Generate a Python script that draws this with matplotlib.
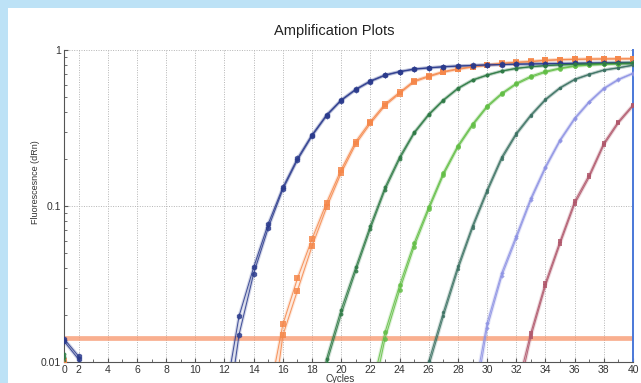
import matplotlib
matplotlib.use("Agg")
import matplotlib.pyplot as plt
from matplotlib.patches import Rectangle
from matplotlib.ticker import FixedLocator, NullFormatter, LogLocator

cycles = list(range(1, 41))

navy_a = [0.0141, 0.0109, 0.004, 0.003, 0.003, 0.003, 0.003, 0.003, 0.003, 0.003,
          0.003, 0.0056, 0.0197, 0.0405, 0.077, 0.1315, 0.2016, 0.286, 0.384, 0.479,
          0.561, 0.634, 0.692, 0.728, 0.756, 0.770, 0.782, 0.790, 0.797, 0.803,
          0.808, 0.812, 0.815, 0.818, 0.820, 0.822, 0.824, 0.826, 0.828, 0.830]
navy_b = [0.0136, 0.0104, 0.003, 0.003, 0.003, 0.003, 0.003, 0.003, 0.003, 0.003,
          0.003, 0.0033, 0.0150, 0.0369, 0.0723, 0.128, 0.197, 0.281, 0.379, 0.474,
          0.556, 0.628, 0.687, 0.724, 0.752, 0.767, 0.779, 0.788, 0.795, 0.801,
          0.806, 0.810, 0.813, 0.816, 0.818, 0.820, 0.822, 0.824, 0.826, 0.828]
orange_a = [0.0102, 0.003, 0.003, 0.003, 0.003, 0.003, 0.003, 0.003, 0.003, 0.003,
            0.003, 0.003, 0.003, 0.003, 0.0057, 0.0174, 0.0343, 0.0615, 0.105, 0.171,
            0.259, 0.348, 0.45, 0.535, 0.635, 0.682, 0.728, 0.758, 0.783, 0.803,
            0.822, 0.835, 0.845, 0.860, 0.868, 0.873, 0.876, 0.878, 0.879, 0.880]
orange_b = [0.0098, 0.003, 0.003, 0.003, 0.003, 0.003, 0.003, 0.003, 0.003, 0.003,
            0.003, 0.003, 0.003, 0.003, 0.003, 0.0148, 0.0287, 0.0552, 0.098, 0.163,
            0.250, 0.338, 0.44, 0.526, 0.625, 0.674, 0.72, 0.751, 0.777, 0.798,
            0.818, 0.831, 0.842, 0.857, 0.865, 0.870, 0.873, 0.875, 0.876, 0.877]
dgreen_a = [0.0113, 0.004, 0.003, 0.003, 0.003, 0.003, 0.003, 0.003, 0.003, 0.003,
            0.003, 0.003, 0.003, 0.003, 0.003, 0.003, 0.003, 0.004, 0.0105, 0.0217,
            0.0405, 0.0748, 0.1315, 0.206, 0.297, 0.388, 0.479, 0.569, 0.643, 0.692,
            0.734, 0.764, 0.782, 0.795, 0.804, 0.811, 0.816, 0.820, 0.823, 0.826]
dgreen_b = [0.0108, 0.004, 0.003, 0.003, 0.003, 0.003, 0.003, 0.003, 0.003, 0.003,
            0.003, 0.003, 0.003, 0.003, 0.003, 0.003, 0.003, 0.0035, 0.0098, 0.0202,
            0.0385, 0.0715, 0.127, 0.200, 0.292, 0.383, 0.474, 0.565, 0.639, 0.689,
            0.731, 0.761, 0.780, 0.793, 0.802, 0.809, 0.814, 0.818, 0.821, 0.824]
lgreen_a = [0.006, 0.003, 0.003, 0.003, 0.003, 0.003, 0.003, 0.003, 0.003, 0.003,
            0.003, 0.003, 0.003, 0.003, 0.003, 0.003, 0.003, 0.003, 0.003, 0.003,
            0.003, 0.0063, 0.0155, 0.031, 0.058, 0.0986, 0.163, 0.244, 0.335, 0.438,
            0.528, 0.612, 0.68, 0.73, 0.766, 0.792, 0.805, 0.813, 0.818, 0.823]
lgreen_b = [0.006, 0.003, 0.003, 0.003, 0.003, 0.003, 0.003, 0.003, 0.003, 0.003,
            0.003, 0.003, 0.003, 0.003, 0.003, 0.003, 0.003, 0.003, 0.003, 0.003,
            0.003, 0.005, 0.0141, 0.0288, 0.055, 0.095, 0.158, 0.238, 0.328, 0.43,
            0.52, 0.603, 0.668, 0.72, 0.758, 0.786, 0.80, 0.809, 0.815, 0.82]
teal_a = [0.006, 0.003, 0.003, 0.003, 0.003, 0.003, 0.003, 0.003, 0.003, 0.003,
          0.003, 0.003, 0.003, 0.003, 0.003, 0.003, 0.003, 0.003, 0.003, 0.003,
          0.003, 0.003, 0.003, 0.003, 0.004, 0.0101, 0.0208, 0.0411, 0.0748, 0.127,
          0.206, 0.293, 0.384, 0.484, 0.574, 0.649, 0.699, 0.745, 0.77, 0.80]
teal_b = [0.006, 0.003, 0.003, 0.003, 0.003, 0.003, 0.003, 0.003, 0.003, 0.003,
          0.003, 0.003, 0.003, 0.003, 0.003, 0.003, 0.003, 0.003, 0.003, 0.003,
          0.003, 0.003, 0.003, 0.003, 0.0035, 0.0094, 0.0196, 0.0392, 0.0722, 0.123,
          0.200, 0.287, 0.378, 0.478, 0.569, 0.645, 0.696, 0.742, 0.768, 0.798]
lav_a = [0.006, 0.003, 0.003, 0.003, 0.003, 0.003, 0.003, 0.003, 0.003, 0.003,
         0.003, 0.003, 0.003, 0.003, 0.003, 0.003, 0.003, 0.003, 0.003, 0.003,
         0.003, 0.003, 0.003, 0.003, 0.003, 0.003, 0.003, 0.003, 0.0056, 0.0178,
         0.0373, 0.0645, 0.1125, 0.179, 0.266, 0.366, 0.467, 0.569, 0.649, 0.71]
lav_b = [0.006, 0.003, 0.003, 0.003, 0.003, 0.003, 0.003, 0.003, 0.003, 0.003,
         0.003, 0.003, 0.003, 0.003, 0.003, 0.003, 0.003, 0.003, 0.003, 0.003,
         0.003, 0.003, 0.003, 0.003, 0.003, 0.003, 0.003, 0.003, 0.0045, 0.0165,
         0.0355, 0.062, 0.109, 0.175, 0.261, 0.36, 0.461, 0.563, 0.644, 0.706]
maroon_a = [0.005, 0.003, 0.003, 0.003, 0.003, 0.003, 0.003, 0.003, 0.003, 0.003,
            0.003, 0.003, 0.003, 0.003, 0.003, 0.003, 0.003, 0.003, 0.003, 0.003,
            0.003, 0.003, 0.003, 0.003, 0.003, 0.003, 0.003, 0.003, 0.003, 0.003,
            0.003, 0.0065, 0.0154, 0.0322, 0.0594, 0.107, 0.158, 0.253, 0.348, 0.445]
maroon_b = [0.005, 0.003, 0.003, 0.003, 0.003, 0.003, 0.003, 0.003, 0.003, 0.003,
            0.003, 0.003, 0.003, 0.003, 0.003, 0.003, 0.003, 0.003, 0.003, 0.003,
            0.003, 0.003, 0.003, 0.003, 0.003, 0.003, 0.003, 0.003, 0.003, 0.003,
            0.003, 0.0055, 0.0145, 0.0308, 0.0572, 0.103, 0.153, 0.246, 0.340, 0.437]

threshold = 0.0143

xtick_pos = [1, 2, 4, 6, 8, 10, 12, 14, 16, 18, 20, 22, 24, 26, 28, 30, 32, 34, 36, 38, 40]
xtick_labels = ["0", "2", "4", "6", "8", "10", "12", "14", "16", "18", "20",
                "22", "24", "26", "28", "30", "32", "34", "36", "38", "40"]
ytick_pos = [0.01, 0.1, 1]
ytick_labels = ["0.01", "0.1", "1"]

series = [
    (orange_a, orange_b, "#F5874A", "s", 3.8),
    (navy_a, navy_b, "#2A3A8C", "h", 4.4),
    (lgreen_a, lgreen_b, "#62BE45", "o", 3.4),
    (dgreen_a, dgreen_b, "#2E7A45", "o", 2.8),
    (teal_a, teal_b, "#3C7263", "o", 2.4),
    (lav_a, lav_b, "#8E93E4", "D", 2.2),
    (maroon_a, maroon_b, "#B0576B", "s", 3.2),
]

FONT = ["Liberation Sans", "DejaVu Sans"]
plt.rcParams['font.family'] = FONT

fig = plt.figure(figsize=(6.41, 3.83), dpi=100)
fig.patch.set_facecolor("#BDE2F6")
fig.patches.append(Rectangle((8 / 641, 0), 1, 1 - 8 / 383, transform=fig.transFigure,
                             facecolor="white", edgecolor="none", zorder=-10))

ax = fig.add_axes([64 / 641, 1 - 362 / 383, (633 - 64) / 641, (362 - 50) / 383])
ax.set_facecolor("white")
ax.set_yscale("log")
ax.set_xlim(1, 40)
ax.set_ylim(0.01, 1)

# grid
for xv in xtick_pos[1:-1]:
    ax.axvline(xv, color="#b4b4b4", lw=0.7, ls=(0, (1, 1.5)), zorder=1)
for yv in [0.1, 1]:
    ax.axhline(yv, color="#b4b4b4", lw=0.7, ls=(0, (1, 1.5)), zorder=1)

# threshold
ax.axhline(threshold, color="#F7946A", lw=3.4, alpha=0.75, zorder=2)

for a, b, col, mk, ms in series:
    for rep in (a, b):
        ax.plot(cycles, rep, color=col, lw=2.4, alpha=0.2, zorder=3, solid_capstyle="round")
        ax.plot(cycles, rep, color=col, lw=0.75, alpha=0.85, zorder=4,
                marker=mk, markersize=ms, markeredgewidth=0)

ax.set_xticks(xtick_pos)
ax.set_xticklabels(xtick_labels)
ax.xaxis.set_minor_locator(FixedLocator([c for c in cycles if c % 2 == 1 and c > 1]))
ax.set_yticks(ytick_pos)
ax.set_yticklabels(ytick_labels)
ax.yaxis.set_minor_locator(LogLocator(base=10, subs=range(2, 10)))
ax.yaxis.set_minor_formatter(NullFormatter())
ax.tick_params(axis="both", which="major", direction="in", length=3, width=0.8,
               labelsize=7.5, colors="#555555", labelcolor="#333333", pad=2)
ax.tick_params(axis="both", which="minor", direction="in", length=2, width=0.6,
               colors="#555555")

ax.spines["top"].set_visible(False)
ax.spines["left"].set_color("#555555")
ax.spines["bottom"].set_color("#555555")
ax.spines["right"].set_color("#4A78D8")
ax.spines["right"].set_linewidth(1.4)

fig.text(0.521, 1 - 31 / 383, "Amplification Plots", ha="center", va="center",
         fontsize=10.5, color="#222222")
fig.text(35 / 641, 1 - 182 / 383, "Fluorescesnce (dRn)", rotation=90, ha="center",
         va="center", fontsize=6.5, color="#333333")
fig.text(340 / 641, 1 - 379 / 383, "Cycles", ha="center", va="center",
         fontsize=7, color="#333333")

fig.savefig("out.png", dpi=100, facecolor=fig.get_facecolor())
